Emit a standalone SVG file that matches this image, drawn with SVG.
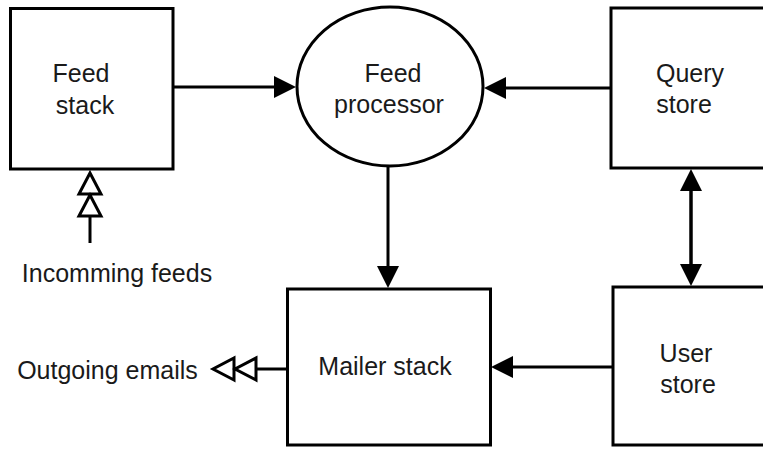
<svg xmlns="http://www.w3.org/2000/svg" width="763" height="449" viewBox="0 0 763 449">
  <style>
    .box { fill: #ffffff; stroke: #000000; stroke-width: 3; }
    .lbl { font-family: "Liberation Sans", Arial, sans-serif; font-size: 25px; fill: #1a1a1a; text-anchor: middle; }
    .wire { fill: none; stroke: #000000; stroke-width: 3; }
    .solid { marker-end: url(#head); }
    .open2 { marker-end: url(#openTwin); }
  </style>
  <defs>
    <!-- filled arrowhead; line stops at the head's base -->
    <marker id="head" markerUnits="userSpaceOnUse" orient="auto" overflow="visible" refX="0" refY="0" markerWidth="24" markerHeight="24">
      <path d="M0,-11 L22,0 L0,11 Z" fill="#000000"/>
    </marker>
    <!-- two hollow triangles in a row -->
    <marker id="openTwin" markerUnits="userSpaceOnUse" orient="auto" overflow="visible" refX="0" refY="0" markerWidth="46" markerHeight="26">
      <path d="M0,-11 L21,0 L0,11 Z M22,-11 L43,0 L22,11 Z" fill="#ffffff" stroke="#000000" stroke-width="3" stroke-linejoin="miter"/>
    </marker>
  </defs>

  <g id="connectors">
    <line class="wire solid" x1="173" y1="87" x2="274" y2="87"/>
    <line class="wire solid" x1="611" y1="88" x2="506" y2="88"/>
    <line class="wire solid" x1="388" y1="166" x2="388" y2="266"/>
    <line class="wire solid" x1="613" y1="367" x2="513" y2="367"/>
    <line class="wire solid" x1="691" y1="264" x2="691" y2="191"/>
    <line class="wire solid" x1="691" y1="191" x2="691" y2="264"/>
    <line class="wire open2" x1="287" y1="369" x2="256" y2="369"/>
    <line class="wire open2" x1="90" y1="243" x2="90" y2="216"/>
  </g>

  <g id="feed-stack">
    <rect class="box" x="10.5" y="8.5" width="162.5" height="160.5"/>
    <text class="lbl" x="81" y="82">Feed</text>
    <text class="lbl" x="85" y="114">stack</text>
  </g>

  <g id="feed-processor">
    <ellipse class="box" cx="390" cy="86.5" rx="93" ry="79.5"/>
    <text class="lbl" x="393" y="82">Feed</text>
    <text class="lbl" x="389" y="113">processor</text>
  </g>

  <g id="query-store">
    <rect class="box" x="611" y="8" width="165" height="160"/>
    <text class="lbl" x="690" y="82">Query</text>
    <text class="lbl" x="684" y="113">store</text>
  </g>

  <g id="user-store">
    <rect class="box" x="613" y="287" width="165" height="158"/>
    <text class="lbl" x="686" y="362">User</text>
    <text class="lbl" x="688" y="393">store</text>
  </g>

  <g id="mailer-stack">
    <rect class="box" x="287.5" y="289" width="203" height="156"/>
    <text class="lbl" x="385" y="375">Mailer stack</text>
  </g>

  <g id="incoming-feeds">
    <text class="lbl" x="117" y="282">Incomming feeds</text>
  </g>

  <g id="outgoing-emails">
    <text class="lbl" x="107.5" y="379">Outgoing emails</text>
  </g>
</svg>
